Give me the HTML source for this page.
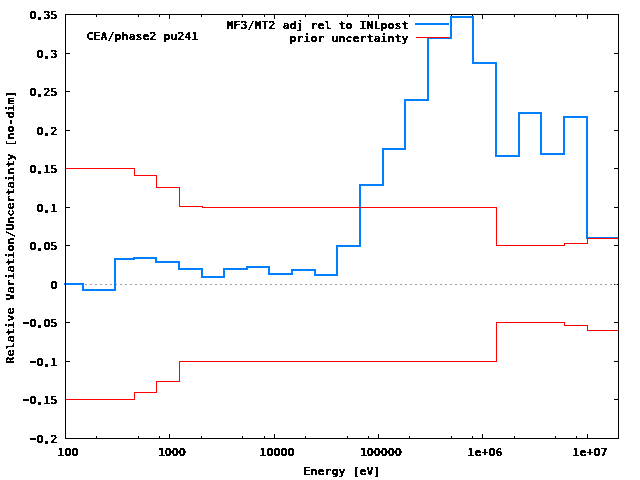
<!DOCTYPE html>
<html><head><meta charset="utf-8"><title>plot</title>
<style>
html,body{margin:0;padding:0;background:#fff;width:640px;height:480px;overflow:hidden}
svg{display:block}
text{font-family:"DejaVu Sans Mono","Liberation Mono",monospace;font-weight:bold;font-size:11px;fill:#000}
.z{font-family:"DejaVu Sans Condensed","DejaVu Sans","Liberation Sans",sans-serif}
.d{font-size:17px}
.h{font-size:16px}
</style></head><body>
<svg width="640" height="480" viewBox="0 0 640 480">
<defs><filter id="c" x="-5%" y="-20%" width="110%" height="140%"><feComponentTransfer><feFuncA type="discrete" tableValues="0 1 1"/></feComponentTransfer></filter><filter id="c2" x="-20%" y="-5%" width="140%" height="110%"><feComponentTransfer><feFuncA type="discrete" tableValues="0 1 1"/></feComponentTransfer></filter></defs>
<rect x="0" y="0" width="640" height="480" fill="#fff"/>
<path d="M65,438.5h5M619,438.5h-5M65,399.5h5M619,399.5h-5M65,361.5h5M619,361.5h-5M65,322.5h5M619,322.5h-5M65,284.5h5M619,284.5h-5M65,245.5h5M619,245.5h-5M65,207.5h5M619,207.5h-5M65,168.5h5M619,168.5h-5M65,130.5h5M619,130.5h-5M65,91.5h5M619,91.5h-5M65,53.5h5M619,53.5h-5M65,14.5h5M619,14.5h-5M65.5,439v-5M65.5,14v5M96.5,439v-3M96.5,14v3M138.5,439v-3M138.5,14v3M159.5,439v-3M159.5,14v3M169.5,439v-5M169.5,14v5M201.5,439v-3M201.5,14v3M242.5,439v-3M242.5,14v3M264.5,439v-3M264.5,14v3M274.5,439v-5M274.5,14v5M305.5,439v-3M305.5,14v3M347.5,439v-3M347.5,14v3M368.5,439v-3M368.5,14v3M378.5,439v-5M378.5,14v5M409.5,439v-3M409.5,14v3M451.5,439v-3M451.5,14v3M472.5,439v-3M472.5,14v3M482.5,439v-5M482.5,14v5M514.5,439v-3M514.5,14v3M555.5,439v-3M555.5,14v3M576.5,439v-3M576.5,14v3M587.5,439v-5M587.5,14v5M618.5,439v-3M618.5,14v3" stroke="#000" stroke-width="1" fill="none" shape-rendering="crispEdges"/>
<path d="M65,284.5H618" stroke="#a0a0a0" stroke-width="1" stroke-dasharray="2 3" fill="none" shape-rendering="crispEdges"/>
<path d="M64,284H83V290H115V259H134V258H156V262H179V269H202V277H224V269H247V267H269V274H292V270H315V275H337V246H360V185H383V149H405V100H428V38H451V17H473V63H496V156H519V113H541V154H564V117H587V238H618" stroke="#0080ff" stroke-width="2" fill="none" stroke-linejoin="miter" shape-rendering="crispEdges"/>
<path d="M65,168.5H134.5V175.5H156.5V187.5H179.5V206.5H202.5V207.5H496.5V245.5H564.5V243.5H587.5V238.5H618" stroke="#ff0000" stroke-width="1" fill="none" stroke-linecap="butt" shape-rendering="crispEdges"/>
<path d="M65,399.5H134.5V392.5H156.5V381.5H179.5V361.5H202.5V361.5H496.5V322.5H564.5V325.5H587.5V330.5H618" stroke="#ff0000" stroke-width="1" fill="none" stroke-linecap="butt" shape-rendering="crispEdges"/>
<path d="M415,24H449" stroke="#0080ff" stroke-width="2" fill="none" shape-rendering="crispEdges"/>
<path d="M416,37.5H449" stroke="#ff0000" stroke-width="1" fill="none" shape-rendering="crispEdges"/>
<rect x="65.5" y="14.5" width="553" height="424" fill="none" stroke="#000" stroke-width="1" shape-rendering="crispEdges"/>
<g filter="url(#c)">
<text transform="translate(0,443) scale(1.05,1)" x="26.61 34.57 39.18 48.00" y="0 0 1 0"><tspan class="h">-</tspan><tspan class="z">0</tspan><tspan class="d">.</tspan>2</text>
<text transform="translate(0,404) scale(1.05,1)" x="19.95 27.90 32.51 41.33 48.00" y="0 0 1 0 0"><tspan class="h">-</tspan><tspan class="z">0</tspan><tspan class="d">.</tspan>15</text>
<text transform="translate(0,366) scale(1.05,1)" x="26.61 34.57 39.18 48.00" y="0 0 1 0"><tspan class="h">-</tspan><tspan class="z">0</tspan><tspan class="d">.</tspan>1</text>
<text transform="translate(0,327) scale(1.05,1)" x="19.95 27.90 32.51 41.24 48.00" y="0 0 1 0 0"><tspan class="h">-</tspan><tspan class="z">0</tspan><tspan class="d">.</tspan><tspan class="z">0</tspan>5</text>
<text transform="translate(0,289) scale(1.05,1)" x="47.90"><tspan class="z">0</tspan></text>
<text transform="translate(0,250) scale(1.05,1)" x="27.90 32.51 41.24 48.00" y="0 1 0 0"><tspan class="z">0</tspan><tspan class="d">.</tspan><tspan class="z">0</tspan>5</text>
<text transform="translate(0,212) scale(1.05,1)" x="34.57 39.18 48.00" y="0 1 0"><tspan class="z">0</tspan><tspan class="d">.</tspan>1</text>
<text transform="translate(0,173) scale(1.05,1)" x="27.90 32.51 41.33 48.00" y="0 1 0 0"><tspan class="z">0</tspan><tspan class="d">.</tspan>15</text>
<text transform="translate(0,135) scale(1.05,1)" x="34.57 39.18 48.00" y="0 1 0"><tspan class="z">0</tspan><tspan class="d">.</tspan>2</text>
<text transform="translate(0,96) scale(1.05,1)" x="27.90 32.51 41.33 48.00" y="0 1 0 0"><tspan class="z">0</tspan><tspan class="d">.</tspan>25</text>
<text transform="translate(0,58) scale(1.05,1)" x="34.57 39.18 48.00" y="0 1 0"><tspan class="z">0</tspan><tspan class="d">.</tspan>3</text>
<text transform="translate(0,19) scale(1.05,1)" x="27.90 32.51 41.33 48.00" y="0 1 0 0"><tspan class="z">0</tspan><tspan class="d">.</tspan>35</text>
<text transform="translate(0,456) scale(1.05,1)" x="54.67 61.24 67.90">1<tspan class="z">0</tspan><tspan class="z">0</tspan></text>
<text transform="translate(0,456) scale(1.05,1)" x="150.38 156.95 163.62 170.29">1<tspan class="z">0</tspan><tspan class="z">0</tspan><tspan class="z">0</tspan></text>
<text transform="translate(0,456) scale(1.05,1)" x="247.05 253.62 260.29 266.95 273.62">1<tspan class="z">0</tspan><tspan class="z">0</tspan><tspan class="z">0</tspan><tspan class="z">0</tspan></text>
<text transform="translate(0,456) scale(1.05,1)" x="342.76 349.33 356.00 362.67 369.33 376.00">1<tspan class="z">0</tspan><tspan class="z">0</tspan><tspan class="z">0</tspan><tspan class="z">0</tspan><tspan class="z">0</tspan></text>
<text transform="translate(0,456) scale(1.05,1)" x="445.14 451.81 458.48 465.05 471.81" y="0 0 -1 0 0">1e+<tspan class="z">0</tspan>6</text>
<text transform="translate(0,456) scale(1.05,1)" x="545.14 551.81 558.48 565.05 571.81" y="0 0 -1 0 0">1e+<tspan class="z">0</tspan>7</text>
<text transform="translate(0,475) scale(1.05,1)" x="288.95 295.62 302.29 308.95 315.62 322.29 328.95 335.62 342.29 348.95 355.62">Energy [eV]</text>
<text transform="translate(0,40) scale(1.05,1)" x="82.29 88.95 95.62 102.29 108.95 115.62 122.29 128.95 135.62 142.29 148.95 155.62 162.29 168.95 175.62 182.29">CEA/phase2 pu241</text>
<text transform="translate(0,29) scale(1.05,1)" x="215.62 222.29 228.95 235.62 242.29 248.95 255.62 262.29 268.95 275.62 282.29 288.95 295.62 302.29 308.95 315.62 322.29 328.95 335.62 342.29 348.95 355.62 362.29 368.95 375.62 382.29">MF3/MT2 adj rel to INLpost</text>
<text transform="translate(0,42) scale(1.05,1)" x="275.62 282.29 288.95 295.62 302.29 308.95 315.62 322.29 328.95 335.62 342.29 348.95 355.62 362.29 368.95 375.62 382.29">prior uncertainty</text>
</g>
<g filter="url(#c2)"><text transform="translate(14,363.6) rotate(-90) scale(1.05,1)" textLength="260.000" lengthAdjust="spacing">Relative Variation/Uncertainty [no-dim]</text></g>
</svg>
</body></html>
